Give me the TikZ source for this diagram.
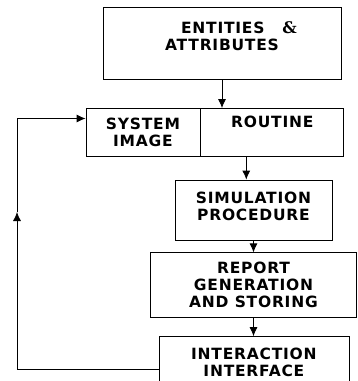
\documentclass[tikz,border=0pt]{standalone}
\usepackage{fontspec}
\newfontfamily\boxfont[LetterSpace=5]{DejaVu Sans Bold}
\newfontfamily\ampfont{DejaVu Serif Bold}
\usetikzlibrary{positioning}
\usetikzlibrary{arrows.meta}

\begin{document}
\begin{tikzpicture}[
            > = {Latex[length=9pt,width=8pt]}, % arrow head style
            x = 1pt, y = -1pt, % pixel grid, y pointing down
            thick, % line style
            font = \boxfont\fontsize{15.5}{17}\selectfont
        ]

        \tikzstyle{block}=[
            draw,
            align = center,
            inner sep = 0pt
        ]

        \useasboundingbox (0,0) rectangle (357,381);
        \clip (0,0) rectangle (357,381);

       \node[block,minimum width = 238pt,minimum height = 72pt] (EA) at (222,43) {\hspace*{34pt}ENTITIES\hspace{18pt}{\ampfont\fontsize{16}{17}\selectfont\&}\\ATTRIBUTES\\[-9pt]\strut};

       \node[block,minimum width = 114pt,minimum height = 48pt] (SI) at (143,132.5) {SYSTEM\\IMAGE};
       \node[block,minimum width = 143pt,minimum height = 48pt,right = 0pt of SI] (RT) {ROUTINE\\\strut};

       \node[block,minimum width = 157pt,minimum height = 60pt] (SP) at (253.5,210) {SIMULATION\\PROCEDURE\\[-15pt]\strut};
       \node[block,minimum width = 206pt,minimum height = 65pt,below = 12pt of SP] (RG) {REPORT\\GENERATION\\AND STORING};
       \node[block,minimum width = 190pt,minimum height = 52pt,below = 18pt of RG,anchor = north west,xshift = -95pt] (II) {INTERACTION\\INTERFACE};

       \coordinate (up) at (17,212);

	\draw[->] (EA.south) -- (EA.south |- RT.north);
	\draw[->] ([xshift = -26pt]RT.south) -- ([xshift = -26pt]RT.south |- SP.north);
	\draw[->] (SP) -- (RG);
	\draw[->] (RG) -- (RG |- II.north);
	\draw[->] ([yshift = -7pt]II.west) -| (up);
	\draw[->] (up) |- ([yshift = 14pt]SI.west);

  \end{tikzpicture}
\end{document}
